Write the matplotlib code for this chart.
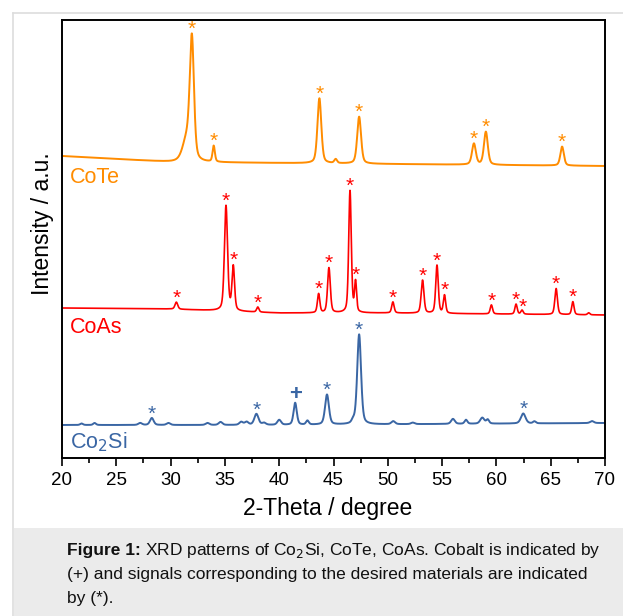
import numpy as np
import matplotlib
matplotlib.use("Agg")
import matplotlib.pyplot as plt
from matplotlib.patches import Rectangle
from matplotlib.lines import Line2D

plt.rcParams['font.family'] = ['Liberation Sans', 'DejaVu Sans']

# ---------------- data ----------------
# CoTe
cote_baseline_x = [20, 30, 40, 50, 60, 70]
cote_baseline_y = [302, 296, 295, 294, 293, 292]
cote_pos    = [31.50, 31.96, 33.97, 43.70, 45.20, 47.36, 57.93, 59.03, 66.05]
cote_height = [22,    118,   16,    65,    4,     47,    21,    33,    19]
cote_fwhm   = [0.90,  0.45,  0.25,  0.42,  0.30,  0.42,  0.42,  0.42,  0.38]
cote_star   = [31.96, 33.97, 43.70, 47.36, 57.93, 59.03, 66.05]

# CoAs
coas_baseline_x = [20, 30, 35, 40, 50, 60, 70]
coas_baseline_y = [150, 149, 147, 145, 145, 144, 143]
coas_pos    = [30.53, 35.10, 35.77, 38.03, 43.63, 44.58, 46.52, 47.03, 50.47,
               53.20, 54.53, 55.22, 59.54, 61.81, 62.36, 65.50, 67.04, 68.50]
coas_height = [7, 105, 44, 5, 19, 45, 122, 30, 11,
               33, 48, 18, 9, 10, 4, 26, 13, 2]
coas_fwhm   = [0.30, 0.34, 0.28, 0.25, 0.26, 0.30, 0.28, 0.22, 0.26,
               0.30, 0.28, 0.25, 0.25, 0.25, 0.25, 0.28, 0.25, 0.25]
coas_star   = [30.53, 35.10, 35.77, 38.03, 43.63, 44.58, 46.52, 47.03, 50.47,
               53.20, 54.53, 55.22, 59.54, 61.81, 62.45, 65.50, 67.04]

# Co2Si
cosi_baseline_x = [20, 40, 55, 70]
cosi_baseline_y = [33, 33, 34, 35]
cosi_pos    = [21.8, 23.0, 27.2, 28.27, 29.8, 33.4, 34.6, 36.5, 37.0, 37.90, 38.6,
               40.0, 41.47, 42.6, 44.40, 46.8, 47.36, 50.5, 52.3, 56.0, 57.2,
               58.7, 59.2, 62.47, 63.5, 68.8]
cosi_height = [1.5, 2, 2, 7, 2, 2, 3, 3, 3, 11, 2,
               5, 22, 4, 30, 3, 90, 3, 1.5, 5, 4,
               6, 4, 10, 2, 2]
cosi_fwhm   = [0.3, 0.3, 0.4, 0.40, 0.4, 0.4, 0.4, 0.4, 0.4, 0.45, 0.4,
               0.4, 0.35, 0.3, 0.42, 0.3, 0.42, 0.4, 0.4, 0.4, 0.3,
               0.45, 0.3, 0.50, 0.3, 0.4]
cosi_star   = [28.27, 37.90, 44.40, 47.36, 62.47]
cosi_plus   = [41.47]

series_names = ['CoTe', 'CoAs', 'Co$_2$Si']

xticks = [20, 25, 30, 35, 40, 45, 50, 55, 60, 65, 70]

# ---------------- styles ----------------
c_te = '#FF8C00'
c_as = '#FF0000'
c_si = '#3A66A4'

x = np.linspace(20, 70, 6001)


def profile(pos, height, fwhm, bx, by):
    y = np.interp(x, bx, by).astype(float)
    for p, h, w in zip(pos, height, fwhm):
        g = np.exp(-4 * np.log(2) * ((x - p) / w) ** 2)
        l = 1.0 / (1.0 + 4 * ((x - p) / w) ** 2)
        y += h * (0.6 * g + 0.4 * l)
    return y


y_te = profile(cote_pos, cote_height, cote_fwhm, cote_baseline_x, cote_baseline_y)
y_as = profile(coas_pos, coas_height, coas_fwhm, coas_baseline_x, coas_baseline_y)
y_si = profile(cosi_pos, cosi_height, cosi_fwhm, cosi_baseline_x, cosi_baseline_y)

W, H = 623, 616
fig = plt.figure(figsize=(W / 100, H / 100), dpi=100)

# outer frame and caption box
fig.add_artist(Line2D([13 / W, 1], [1 - 13 / H, 1 - 13 / H], color='#DDDDDD', lw=1.2))
fig.add_artist(Line2D([13 / W, 13 / W], [0, 1 - 13 / H], color='#DDDDDD', lw=1.2))
fig.add_artist(Rectangle((14 / W, 0), 1 - 14 / W, (H - 528) / H,
                         facecolor='#EBEBEB', edgecolor='none'))

ax = fig.add_axes([62 / W, 1 - 458 / H, (605 - 62) / W, (458 - 20) / H])
ax.plot(x, y_te, color=c_te, lw=1.4)
ax.plot(x, y_as, color=c_as, lw=1.2)
ax.plot(x, y_si, color=c_si, lw=1.4)

ax.set_xlim(20, 70)
ax.set_ylim(0, 438)
ax.set_xticks(xticks)
ax.set_xticks(np.arange(22.5, 70, 5), minor=True)
ax.set_yticks([])
ax.tick_params(axis='x', which='major', direction='out', length=6, width=1.2,
               labelsize=13.5, pad=4)
ax.tick_params(axis='x', which='minor', direction='out', length=3.5, width=1.2)
for s in ax.spines.values():
    s.set_linewidth(1.4)

ax.set_xlabel('2-Theta / degree', fontsize=16.5)
ax.xaxis.set_label_coords(0.489, -0.09)
ax.set_ylabel('Intensity / a.u.', fontsize=16.5)
ax.yaxis.set_label_coords(-0.015, 0.534)


def mark(xs, xv, yv, color, sym='*', size=15, dy=1, weight='normal'):
    for p in xs:
        top = np.interp(p, xv, yv)
        ax.annotate(sym, (p, top), xytext=(0, dy), textcoords='offset points',
                    ha='center', va='bottom', color=color, fontsize=size,
                    fontweight=weight)


mark(cote_star, x, y_te, c_te, dy=-4)
mark(coas_star, x, y_as, c_as, dy=-4)
mark(cosi_star, x, y_si, c_si, dy=-4)
mark(cosi_plus, x, y_si, c_si, sym='+', size=16, dy=-2, weight='bold')

ax.text(20.74, 275, series_names[0], color=c_te, fontsize=15.5, ha='left', va='baseline')
ax.text(20.74, 125, series_names[1], color=c_as, fontsize=15.5, ha='left', va='baseline')
ax.text(20.74, 10, series_names[2], color=c_si, fontsize=15.5, ha='left', va='baseline')

# caption
cap_x = 67 / W
cfs = 12.5
t1 = fig.text(cap_x, 1 - 551 / H, 'Figure 1:', fontsize=cfs, fontweight='bold',
              va='center', ha='left', color='#111111')
fig.canvas.draw()
bb = t1.get_window_extent()
fig.text(bb.x1 / W + 4 / W, 1 - 551 / H,
         'XRD patterns of Co$_2$Si, CoTe, CoAs. Cobalt is indicated by',
         fontsize=cfs, va='center', ha='left', color='#111111')
fig.text(cap_x, 1 - 575 / H,
         '(+) and signals corresponding to the desired materials are indicated',
         fontsize=cfs, va='center', ha='left', color='#111111')
fig.text(cap_x, 1 - 598 / H, 'by (*).', fontsize=cfs, va='center', ha='left',
         color='#111111')

fig.savefig('out.png', dpi=100)
